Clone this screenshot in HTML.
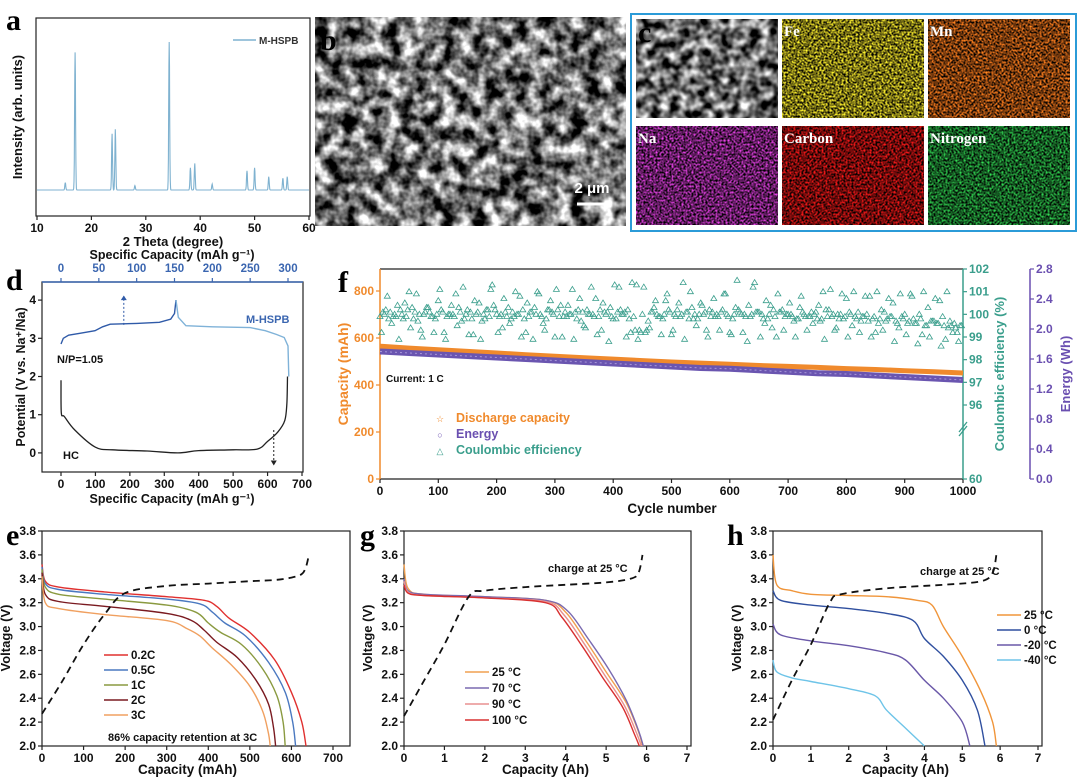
<!DOCTYPE html>
<html><head><meta charset="utf-8"><style>
html,body{margin:0;padding:0;background:#fff}
svg{display:block;font-family:"Liberation Sans",Arial,sans-serif}
</style></head><body>
<svg id="fig" width="1080" height="779" viewBox="0 0 1080 779" xmlns="http://www.w3.org/2000/svg">
<defs>
<filter id="sem" x="0" y="0" width="100%" height="100%" color-interpolation-filters="sRGB"><feTurbulence type="fractalNoise" baseFrequency="0.07" numOctaves="3" seed="3"/><feColorMatrix type="matrix" values="2.2 0 0 0 -0.65 2.2 0 0 0 -0.65 2.2 0 0 0 -0.65 0 0 0 0 1"/></filter>
</defs>
</svg>
<script>
const NS='http://www.w3.org/2000/svg';
const svg=document.getElementById('fig');
// ---------- DATA ----------
const xrdPeakPos=[15.2,17.0,23.8,24.4,28.0,34.3,38.2,39.0,42.2,48.6,50.0,52.6,55.2,56.0];
const xrdPeakInt=[0.05,0.93,0.38,0.41,0.03,1.0,0.15,0.18,0.04,0.13,0.15,0.09,0.08,0.09];
const dChargeCap=[0,3,10,25,45,55,65,100,130,145,150,152];
const dChargeV=[2.85,3.0,3.08,3.13,3.2,3.3,3.37,3.39,3.42,3.5,3.65,4.0];
const dDisCap=[152,155,165,200,250,270,285,295,300,301];
const dDisV=[4.0,3.55,3.33,3.3,3.28,3.2,3.1,3.02,2.8,2.0];
const hcCap=[0,1,10,40,100,150,250,340,400,500,570,600,630,650,656,658];
const hcV=[1.9,1.05,0.95,0.6,0.15,0.08,0.05,0.0,0.06,0.08,0.1,0.3,0.55,0.85,1.3,2.0];
const capCycles=[0,50,100,150,200,250,300,350,400,450,500,550,600,650,700,750,800,850,900,950,1000];
const capVals=[565,557,550,543,536,529,522,516,510,504,498,493,488,483,479,475,470,466,461,456,451];
const energyVals=[1.70,1.68,1.66,1.64,1.62,1.60,1.58,1.56,1.54,1.52,1.50,1.48,1.47,1.45,1.43,1.41,1.40,1.38,1.36,1.34,1.32];
const ceA=[99.9,100.2,99.6,100.4,99.8,101.0,100.1,99.3,100.3,99.9,100.6,99.2,100.0,100.9,99.7,100.2,99.1,100.5,99.8,101.1,100.0,99.4,100.3,99.9,100.8,99.2,100.1,101.0,99.6,100.2,99.0,100.4,99.9,101.1,100.2,99.5,100.0,100.7,99.3,100.1,99.8,101.2,100.1,99.2,101.3,100.0,99.7,100.3,99.9,100.6,99.1,100.2,101.4,99.8,100.0,100.5,99.3,100.1,99.9,100.9,99.2,100.3,100.0,98.8,101.2,100.1,99.6,100.4,99.0,100.2,100.0,99.7,100.3,99.9,100.1,99.8,101.0,100.2,99.3,100.0,100.7,99.5,100.1,99.9,100.8,99.2,100.2,99.8,100.5,99.4,100.0,100.9,99.6,99.1,100.3,99.7,100.6,98.9,99.5,99.2];
const ceB=[100.1,99.8,100.0,100.2,99.9,100.3,99.7,100.0,100.1,99.8,100.2,99.9,100.0,100.3,99.8,100.1,100.0,99.7,100.2,100.4,99.9,100.1,99.8,100.0,100.2,99.9,100.3,100.0,99.8,100.1,100.2,99.9,100.0,100.1,99.7,100.2,100.0,99.9,100.1,100.3,99.8,100.0,100.2,99.9,99.3,99.2,100.1,100.0,99.8,100.2,100.0,99.9,100.1,100.3,99.8,100.0,100.2,99.9,100.1,100.0,99.8,100.2,100.0,99.9,100.1,100.0,99.8,100.2,100.1,99.9,100.0,99.8,100.1,99.9,100.0,99.7,100.2,99.9,100.0,99.8,100.1,99.9,99.7,100.0,99.8,99.6,100.1,99.9,99.7,99.9,99.6,99.8,100.0,99.5,99.7,99.6,99.9,99.4,99.6,99.5];
const ceC=[99.2,100.8,99.9,98.9,100.5,99.4,100.9,99.0,100.3,99.2,101.1,98.9,100.4,99.5,101.2,99.1,100.6,98.9,100.2,101.3,99.2,100.7,99.6,101.0,99.0,100.5,98.9,100.9,99.3,100.6,101.1,99.0,100.4,98.9,100.7,99.4,101.2,99.1,100.5,98.8,101.3,100.2,99.0,101.4,98.9,101.2,99.4,100.6,99.1,100.9,99.3,100.5,98.9,101.0,99.5,100.4,99.0,100.7,99.3,100.9,99.1,101.5,99.2,100.4,101.4,99.0,100.6,99.4,100.9,99.3,100.5,99.0,100.8,99.3,99.6,100.4,98.9,101.1,99.4,100.9,99.0,101.0,99.2,100.8,99.0,101.0,99.3,100.7,98.8,100.9,99.1,100.8,98.7,101.0,99.0,100.7,98.6,101.0,99.2,98.8];
const ceD=[100.0,100.1,99.9,100.0,100.2,99.8,100.0,100.1,99.9,100.0,100.1,100.0,99.9,100.1,100.0,99.8,100.1,100.0,99.9,100.2,100.0,99.9,100.1,100.0,99.8,100.1,100.0,99.9,100.2,100.0,99.9,100.1,100.0,99.8,100.1,100.0,99.9,100.2,100.0,99.9,100.1,100.0,99.8,99.3,99.2,99.3,100.1,99.9,100.0,100.1,99.9,100.0,100.1,99.8,100.0,100.1,99.9,100.0,100.2,99.9,100.0,100.1,99.9,100.0,100.1,99.8,100.0,99.9,100.1,100.0,99.9,99.8,100.0,99.9,100.1,99.8,99.9,100.0,99.8,99.9,100.0,99.8,99.9,99.7,99.9,99.8,99.7,99.9,99.6,99.8,99.7,99.6,99.8,99.5,99.7,99.6,99.5,99.7,99.4,99.5];
const eRates=['0.2C','0.5C','1C','2C','3C'];
const eCap=[
 [0,8,40,150,300,390,420,450,500,560,600,625,635],
 [0,8,40,150,300,380,410,440,490,545,585,603,610],
 [0,8,40,150,300,370,400,430,480,530,565,580,585],
 [0,8,40,150,300,360,390,420,470,515,545,557,562],
 [0,8,40,150,300,350,380,410,455,500,530,544,549]];
const eV=[
 [3.52,3.38,3.33,3.29,3.25,3.22,3.17,3.07,2.95,2.72,2.45,2.2,2.0],
 [3.5,3.36,3.31,3.27,3.23,3.19,3.12,3.03,2.92,2.7,2.45,2.2,2.0],
 [3.48,3.33,3.27,3.23,3.18,3.12,3.03,2.95,2.85,2.65,2.42,2.2,2.0],
 [3.45,3.27,3.21,3.17,3.11,3.05,2.97,2.87,2.74,2.55,2.35,2.15,2.0],
 [3.42,3.2,3.15,3.1,3.05,2.98,2.92,2.82,2.68,2.5,2.3,2.12,2.0]];
const eChgCap=[0,50,100,150,200,300,400,500,560,600,625,635,642];
const eChgV=[2.27,2.55,2.85,3.1,3.28,3.34,3.36,3.38,3.39,3.41,3.44,3.5,3.6];
const gTemps=['25 °C','70 °C','90 °C','100 °C'];
const gCap=[
 [0,0.1,0.5,2,3.5,4.0,4.5,5.0,5.5,5.8,5.9],
 [0,0.1,0.5,2,3.5,4.05,4.55,5.05,5.5,5.8,5.92],
 [0,0.1,0.5,2,3.5,3.95,4.45,4.95,5.45,5.75,5.87],
 [0,0.1,0.5,2,3.5,3.9,4.4,4.9,5.4,5.7,5.82]];
const gV=[
 [3.52,3.32,3.27,3.25,3.22,3.12,2.88,2.62,2.36,2.12,2.0],
 [3.4,3.3,3.27,3.25,3.22,3.13,2.9,2.65,2.38,2.13,2.0],
 [3.38,3.29,3.26,3.24,3.21,3.1,2.86,2.6,2.34,2.11,2.0],
 [3.35,3.28,3.26,3.24,3.2,3.08,2.84,2.58,2.33,2.1,2.0]];
const gChgCap=[0,0.5,1.0,1.6,2.0,3.0,4.0,5.0,5.6,5.8,5.9];
const gChgV=[2.25,2.55,2.85,3.25,3.3,3.33,3.35,3.37,3.4,3.45,3.6];
const hTemps=['25 °C','0 °C','-20 °C','-40 °C'];
const hCap=[
 [0,0.1,0.5,1,2,3,3.8,4.2,4.5,5,5.5,5.8,5.9],
 [0,0.2,1,2,3,3.7,4,4.5,5,5.4,5.6],
 [0,0.2,1,2,3,3.5,4,4.5,5,5.2],
 [0,0.1,0.5,1,2,2.7,3,3.5,4]];
const hV=[
 [3.6,3.35,3.3,3.27,3.26,3.25,3.22,3.18,3.0,2.75,2.45,2.2,2.0],
 [3.3,3.22,3.18,3.15,3.11,3.05,2.9,2.75,2.55,2.3,2.0],
 [3.02,2.93,2.88,2.84,2.78,2.72,2.55,2.4,2.2,2.0],
 [2.72,2.62,2.57,2.54,2.48,2.42,2.3,2.15,2.0]];
const hChgCap=[0,0.5,1.0,1.5,1.8,3.0,4.5,5.5,5.8,5.9];
const hChgV=[2.22,2.55,2.85,3.2,3.27,3.32,3.35,3.38,3.45,3.6];
// ---------- helpers ----------
function mk(tag,attrs,parent){const e=document.createElementNS(NS,tag);for(const k in attrs)e.setAttribute(k,attrs[k]);(parent||svg).appendChild(e);return e;}
function txt(s,x,y,size,color,anchor,parent,weight,rot){const e=mk('text',{x:x,y:y,'font-size':size,fill:color||'#111','text-anchor':anchor||'middle','font-weight':weight||'bold'},parent);if(rot)e.setAttribute('transform','rotate('+rot+' '+x+' '+y+')');e.textContent=s;return e;}
function lin(d0,d1,r0,r1){return v=>r0+(v-d0)/(d1-d0)*(r1-r0);}
function pathOf(xs,ys,sx,sy){return xs.map((x,i)=>(i?'L':'M')+sx(x).toFixed(1)+','+sy(ys[i]).toFixed(1)).join(' ');}
function smoothOf(xs,ys,sx,sy){const P=xs.map((x,i)=>[sx(x),sy(ys[i])]);let d='M'+P[0][0].toFixed(1)+','+P[0][1].toFixed(1);for(let i=0;i<P.length-1;i++){const p0=P[i-1]||P[i],p1=P[i],p2=P[i+1],p3=P[i+2]||P[i+1];const c1=[p1[0]+(p2[0]-p0[0])/6,p1[1]+(p2[1]-p0[1])/6],c2=[p2[0]-(p3[0]-p1[0])/6,p2[1]-(p3[1]-p1[1])/6];d+=` C${c1[0].toFixed(1)},${c1[1].toFixed(1)} ${c2[0].toFixed(1)},${c2[1].toFixed(1)} ${p2[0].toFixed(1)},${p2[1].toFixed(1)}`;}return d;}
function box(x0,y0,x1,y1,parent){return mk('rect',{x:x0,y:y0,width:x1-x0,height:y1-y0,fill:'none',stroke:'#222','stroke-width':1.2},parent);}
function letter(s,x,y){const t=txt(s,x,y,30,'#000','start',svg,'bold');t.setAttribute('font-family','"Liberation Serif",serif');}
function xTicks(g,vals,sx,yb,labels,color,len){vals.forEach((v,i)=>{mk('line',{x1:sx(v),x2:sx(v),y1:yb,y2:yb+(len||4),stroke:color||'#222','stroke-width':1.2},g);if(labels){const t=txt(labels[i],sx(v),yb+16,12,color||'#111','middle',g);}});}
function yTicks(g,vals,sy,xl,labels,color,side){vals.forEach((v,i)=>{const d=side==='r'?4:-4;mk('line',{x1:xl,x2:xl+d,y1:sy(v),y2:sy(v),stroke:color||'#222','stroke-width':1.2},g);const t=txt(labels[i],xl+(side==='r'?6:-6),sy(v)+4,12,color||'#111',side==='r'?'start':'end',g);});}

// ---------- panel a ----------
(function(){
const g=mk('g',{});
letter('a',6,30);
const sx=lin(10,60,37,309), sy=lin(0,1,190,42);
box(36,18,310,216,g);
const xs=[],ys=[];
for(let t=10;t<=60;t+=0.05){let v=0;xrdPeakPos.forEach((p,i)=>{v+=xrdPeakInt[i]*Math.exp(-Math.pow((t-p)/0.12,2));});xs.push(t);ys.push(v);}
const p=mk('path',{d:pathOf(xs,ys,sx,sy),fill:'none',stroke:'#7fb2d0','stroke-width':1.1},g);

xTicks(g,[10,20,30,40,50,60],sx,216,['10','20','30','40','50','60']);
const xt=txt('2 Theta (degree)',173,246,13,'#111','middle',g);
const yt=txt('Intensity (arb. units)',22,117,13,'#111','middle',g,'bold',-90);
const ll=mk('line',{x1:233,x2:256,y1:40,y2:40,stroke:'#7fb2d0','stroke-width':1.5},g);
const lt=txt('M-HSPB',259,44,10,'#333','start',g);
})();

// ---------- panel b ----------
(function(){
const g=mk('g',{});
mk('rect',{x:315,y:17,width:311,height:209,fill:'#666'},g);
mk('rect',{x:315,y:17,width:311,height:209,filter:'url(#sem)'},g);
letter('b',320,50);
const sb=mk('line',{x1:577,x2:605,y1:204,y2:204,stroke:'#fff','stroke-width':3},g);
const st=txt('2 μm',592,193,15,'#fff','middle',g);
})();

// ---------- panel c ----------
(function(){
const g=mk('g',{});
const defs=svg.querySelector('defs');
const tiles=[['',636,19,[0.75,0.75,0.75]],['Fe',782,19,[0.85,0.8,0.15]],['Mn',928,19,[0.85,0.42,0.1]],['Na',636,126,[0.7,0.2,0.7]],['Carbon',782,126,[0.8,0.08,0.08]],['Nitrogen',928,126,[0.15,0.65,0.25]]];
tiles.forEach((t,i)=>{
 const f=mk('filter',{id:'nz'+i,x:0,y:0,width:'100%',height:'100%','color-interpolation-filters':'sRGB'},defs);
 mk('feTurbulence',{type:'fractalNoise',baseFrequency:i?0.5:0.1,numOctaves:2,seed:i+5},f);
 const c=t[3],k=2.6,o=-0.75;
 mk('feColorMatrix',{type:'matrix',values:`${k*c[0]} 0 0 0 ${o*c[0]} ${k*c[1]} 0 0 0 ${o*c[1]} ${k*c[2]} 0 0 0 ${o*c[2]} 0 0 0 0 1`},f);
 const r=mk('rect',{x:t[1],y:t[2],width:142,height:99,filter:'url(#nz'+i+')'},g);
 
 if(t[0]){const l=txt(t[0],t[1]+2,t[2]+17,15,'#fff','start',g);l.setAttribute('font-family','"Liberation Serif",serif');}
});
const bd=mk('rect',{x:631,y:14,width:445,height:217,fill:'none',stroke:'#2b9bd8','stroke-width':2},g);
letter('c',638,42);
})();

// ---------- panel d ----------
(function(){
const g=mk('g',{});
letter('d',6,290);
const sx=lin(0,700,61,302), tx=lin(0,300,61,288), sy=lin(-0.5,4.5,472,281);
box(42,282,303,472,g);
mk('line',{x1:42,x2:303,y1:282,y2:282,stroke:'#3b66b0','stroke-width':1.5},g);
xTicks(g,[0,100,200,300,400,500,600,700],sx,472,['0','100','200','300','400','500','600','700']);
[0,50,100,150,200,250,300].forEach(v=>{mk('line',{x1:tx(v),x2:tx(v),y1:282,y2:278,stroke:'#3b66b0','stroke-width':1.2},g);const t=txt(String(v),tx(v),272,11.5,'#3b66b0','middle',g);});
yTicks(g,[0,1,2,3,4],sy,42,['0','1','2','3','4']);
const t1=txt('Specific Capacity (mAh g⁻¹)',172,259,12.5,'#111','middle',g);
const t2=txt('Specific Capacity (mAh g⁻¹)',172,503,12.5,'#111','middle',g);
const t3=txt('Potential (V vs. Na⁺/Na)',25,377,12.5,'#111','middle',g,'bold',-90);
const c1=mk('path',{d:pathOf(dChargeCap,dChargeV,tx,sy),fill:'none',stroke:'#2f5aa8','stroke-width':1.4},g);
const c2=mk('path',{d:pathOf(dDisCap,dDisV,tx,sy),fill:'none',stroke:'#7fb2d8','stroke-width':1.4},g);
const c3=mk('path',{d:smoothOf(hcCap,hcV,sx,sy),fill:'none',stroke:'#222','stroke-width':1.3},g);
mk('line',{x1:tx(83),x2:tx(83),y1:sy(3.35),y2:sy(4.1),stroke:'#2f5aa8','stroke-dasharray':'2,2'},g);
mk('path',{d:`M${tx(83)-3},${sy(4.0)} L${tx(83)},${sy(4.12)} L${tx(83)+3},${sy(4.0)}Z`,fill:'#2f5aa8'},g);
mk('line',{x1:sx(618),x2:sx(618),y1:sy(0.6),y2:sy(-0.3),stroke:'#222','stroke-dasharray':'2,2'},g);
mk('path',{d:`M${sx(618)-3},${sy(-0.2)} L${sx(618)},${sy(-0.33)} L${sx(618)+3},${sy(-0.2)}Z`,fill:'#222'},g);
const l1=txt('M-HSPB',246,323,11,'#3b66b0','start',g);
const l2=txt('N/P=1.05',57,363,11,'#111','start',g);
const l3=txt('HC',63,459,11,'#111','start',g);
})();

// ---------- panel f ----------
(function(){
const g=mk('g',{});
letter('f',338,292);
const X0=380,X1=963,Y0=269,Y1=479;
const sx=lin(0,1000,X0,X1), syc=lin(0,800,479,291), sce=lin(96,102,405,269), se=lin(0,2.8,479,269);
mk('line',{x1:X0,x2:X1,y1:Y0,y2:Y0,stroke:'#222','stroke-width':1.2},g);
mk('line',{x1:X0,x2:X1,y1:Y1,y2:Y1,stroke:'#222','stroke-width':1.2},g);
mk('line',{x1:X0,x2:X0,y1:Y0,y2:Y1,stroke:'#f08a2c','stroke-width':1.5},g);
mk('line',{x1:X1,x2:X1,y1:Y0,y2:Y1,stroke:'#3a9e8c','stroke-width':1.5},g);
mk('line',{x1:X1-4,x2:X1+4,y1:432,y2:422,stroke:'#3a9e8c','stroke-width':1.3},g);
mk('line',{x1:X1-4,x2:X1+4,y1:436,y2:426,stroke:'#3a9e8c','stroke-width':1.3},g);
xTicks(g,[0,100,200,300,400,500,600,700,800,900,1000],sx,Y1,['0','100','200','300','400','500','600','700','800','900','1000']);
yTicks(g,[0,200,400,600,800],syc,X0,['0','200','400','600','800'],'#f08a2c');
yTicks(g,[96,97,98,99,100,101,102],sce,X1,['96','97','98','99','100','101','102'],'#3a9e8c','r');
yTicks(g,[60],()=>479,X1,['60'],'#3a9e8c','r');
mk('line',{x1:1030,x2:1030,y1:269,y2:479,stroke:'#6a4fb0','stroke-width':1.5},g);
yTicks(g,[0,0.4,0.8,1.2,1.6,2.0,2.4,2.8],se,1030,['0.0','0.4','0.8','1.2','1.6','2.0','2.4','2.8'],'#6a4fb0','r');
const at=txt('Cycle number',672,513,13.5,'#111','middle',g);
const yc=txt('Capacity (mAh)',348,374,14,'#f08a2c','middle',g,'bold',-90);
const ycE=txt('Coulombic efficiency (%)',1004,374,13,'#3a9e8c','middle',g,'bold',-90);
const yE=txt('Energy (Wh)',1070,374,13,'#6a4fb0','middle',g,'bold',-90);
[[ceA,0],[ceB,5],[ceC,2.5],[ceD,7.5]].forEach(([arr,off])=>{arr.forEach((v,i)=>{const c=i*10+off;const x=sx(c),y=sce(v);const tr=mk('path',{d:`M${x.toFixed(1)},${(y-3).toFixed(1)} L${(x+3).toFixed(1)},${(y+2).toFixed(1)} L${(x-3).toFixed(1)},${(y+2).toFixed(1)}Z`,fill:'none',stroke:'#3a9e8c','stroke-width':0.8},g);});});
const cp=mk('path',{d:pathOf(capCycles,capVals,sx,syc),fill:'none',stroke:'#f08a2c','stroke-width':5},g);
const ep=mk('path',{d:pathOf(capCycles,energyVals,sx,se),fill:'none',stroke:'#6a55b0','stroke-width':6},g);
const ep2=mk('path',{d:pathOf(capCycles,energyVals,sx,se),fill:'none',stroke:'#a898d8','stroke-width':1,'stroke-dasharray':'2,3'},g);
const cur=txt('Current: 1 C',386,382,10,'#111','start',g);
const lg=[['☆','Discharge capacity','#f08a2c',418],['○','Energy','#6a4fb0',434],['△','Coulombic efficiency','#3a9e8c',450]];
lg.forEach(l=>{const s=txt(l[0],440,l[3]+4,9,l[2],'middle',g,'normal');const t=txt(l[1],456,l[3]+4,12.5,l[2],'start',g);});
})();

// ---------- discharge panels ----------
function dischargePanel(id,L,X0,X1,xmax,xtickLabels,caps,vs,names,colors,chgX,chgY,xTitle,legX,legY,legStep,extra){
 const g=mk('g',{});
 const sx=lin(0,xmax,X0,X1), sy=lin(2.0,3.8,746,531);
 box(X0,531,X1+(id[0]==='e'?17:4),746,g);
 const xv=xtickLabels.map(Number);
 xTicks(g,xv,sx,746,xtickLabels);
 const yv=[2.0,2.2,2.4,2.6,2.8,3.0,3.2,3.4,3.6,3.8];
 yTicks(g,yv,sy,X0,yv.map(v=>v.toFixed(1)));
 const xt=txt(xTitle,(X0+X1)/2,774,13.5,'#111','middle',g);
 const yt=txt('Voltage (V)',X0-32,638,13,'#111','middle',g,'bold',-90);
 caps.forEach((c,i)=>{const p=mk('path',{d:smoothOf(c,vs[i],sx,sy),fill:'none',stroke:colors[i],'stroke-width':1.4},g);
  const ly=legY+i*legStep;const ll=mk('line',{x1:legX,x2:legX+24,y1:ly,y2:ly,stroke:colors[i],'stroke-width':1.6},g);
  const lt=txt(names[i],legX+27,ly+4,11.5,'#111','start',g);});
 const cp=mk('path',{d:smoothOf(chgX,chgY,sx,sy),fill:'none',stroke:'#111','stroke-width':1.8,'stroke-dasharray':'7,5'},g);
 if(extra){const t=txt(extra[0],extra[1],extra[2],11,'#111','start',g);}
 letter(L,L==='e'?6:(L==='g'?360:727),545);
}
dischargePanel('e-rate','e',42,333,700,['0','100','200','300','400','500','600','700'],eCap,eV,eRates,['#e0302f','#4a78c0','#8a9a40','#7a1a20','#f0a060'],eChgCap,eChgV,'Capacity (mAh)',104,655,15,['86% capacity retention at 3C',108,741]);
dischargePanel('g-high-temp','g',404,687,7,['0','1','2','3','4','5','6','7'],gCap,gV,gTemps,['#f0a050','#7a6ab0','#e89090','#d83030'],gChgCap,gChgV,'Capacity (Ah)',465,672,16,['charge at 25 °C',548,572]);
dischargePanel('h-low-temp','h',773,1038,7,['0','1','2','3','4','5','6','7'],hCap,hV,hTemps,['#f0953a','#2f4f9f','#6a58a8','#6ec4e8'],hChgCap,hChgV,'Capacity (Ah)',997,615,15,['charge at 25 °C',920,575]);
</script>
</body></html>
